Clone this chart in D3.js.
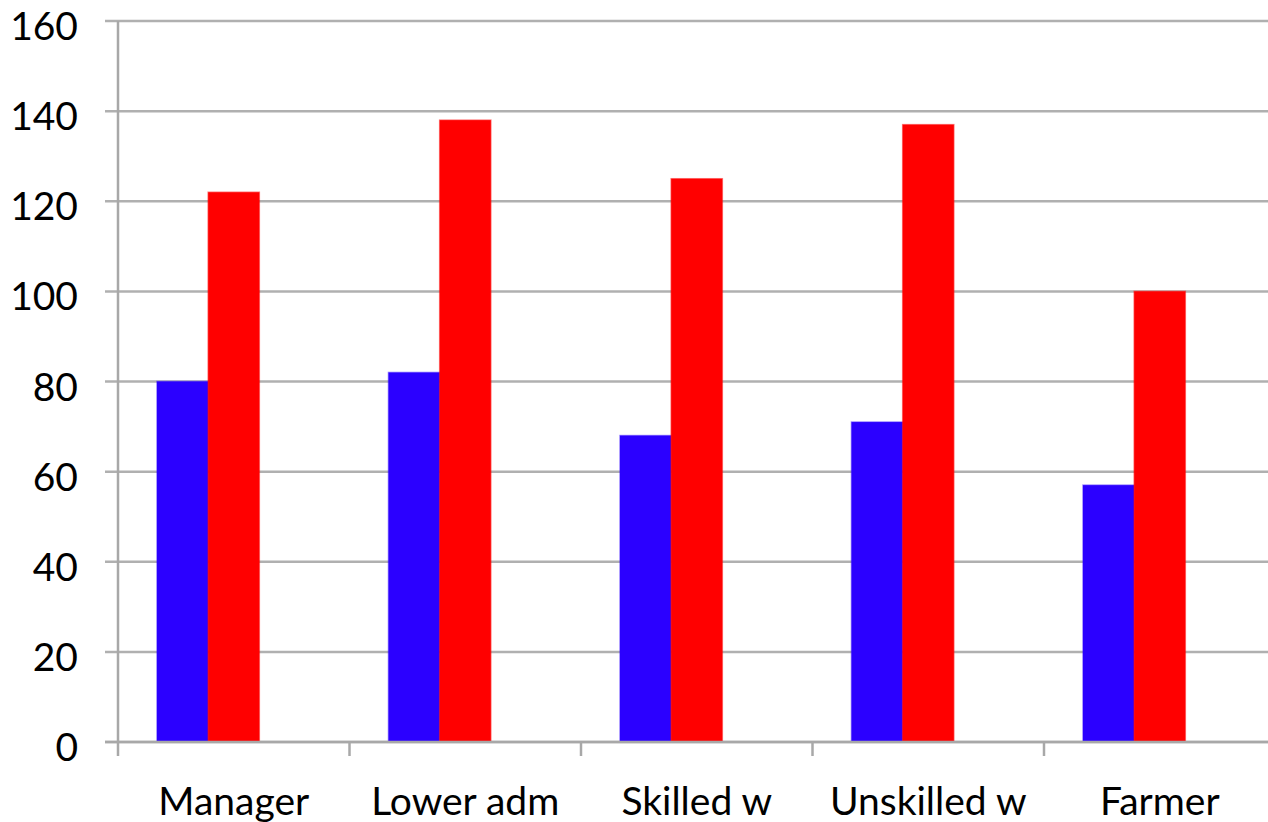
<!DOCTYPE html>
<html>
<head>
<meta charset="utf-8">
<script src="https://cdn.jsdelivr.net/npm/d3@7"></script>
<style>
  html, body { margin: 0; padding: 0; background: #ffffff; overflow: hidden; }
  svg { display: block; }
  text { font-family: Lato, "Open Sans", sans-serif; fill: #000; }
</style>
</head>
<body>
<svg id="chart" width="1268" height="822"></svg>
<script>
// Occupational categories along the x axis
const categories = ["Manager", "Lower adm", "Skilled w", "Unskilled w", "Farmer"];

// Series values per category (third slot in each group is left empty)
const seriesBlue = [80, 82, 68, 71, 57];
const seriesRed = [122, 138, 125, 137, 100];
const seriesEmpty = [null, null, null, null, null];

const seriesNames = ["blue", "red", "empty"];
const seriesColors = { blue: "#2b00ff", red: "#ff0000", empty: "none" };

// Y axis tick values
const yTicks = [0, 20, 40, 60, 80, 100, 120, 140, 160];

const svg = d3.select("#chart");
const margin = { left: 118, top: 21 };
const plotW = 1157.5;
const plotH = 721;

const g = svg.append("g").attr("transform", `translate(${margin.left},${margin.top})`);

const x = d3.scaleBand().domain(categories).range([0, plotW]).paddingInner(0).paddingOuter(0);
const inner = d3.scaleBand().domain(seriesNames).range([39, x.bandwidth() - 39]);
const y = d3.scaleLinear().domain([0, 160]).range([plotH, 0]);

const rows = categories.map((c, i) => ({
  category: c,
  blue: seriesBlue[i],
  red: seriesRed[i],
  empty: seriesEmpty[i]
}));

// Horizontal gridlines with a short outer tick on the left
g.append("g")
  .selectAll("line")
  .data(yTicks)
  .join("line")
  .attr("x1", -13)
  .attr("x2", plotW)
  .attr("y1", d => y(d))
  .attr("y2", d => y(d))
  .attr("stroke", "#b0b0b0")
  .attr("stroke-width", 2.5);

// Y tick labels
g.append("g")
  .selectAll("text")
  .data(yTicks)
  .join("text")
  .attr("x", -40)
  .attr("y", d => y(d) + 4)
  .attr("text-anchor", "end")
  .attr("dominant-baseline", "central")
  .attr("font-size", 39)
  .text(d => d);

// Bars
const groups = g.append("g")
  .selectAll("g")
  .data(rows)
  .join("g")
  .attr("transform", d => `translate(${x(d.category)},0)`);

groups.selectAll("rect")
  .data(d => seriesNames.filter(k => d[k] != null).map(k => ({ key: k, value: d[k] })))
  .join("rect")
  .attr("x", d => inner(d.key))
  .attr("width", inner.bandwidth())
  .attr("y", d => y(d.value))
  .attr("height", d => y(0) - y(d.value))
  .attr("fill", d => seriesColors[d.key])
  .attr("stroke", d => d3.color(seriesColors[d.key]).copy({ opacity: 0.5 }))
  .attr("stroke-width", 1.5);

// Y axis line
g.append("line")
  .attr("x1", 0).attr("x2", 0)
  .attr("y1", 0).attr("y2", plotH + 14)
  .attr("stroke", "#a8a8a8")
  .attr("stroke-width", 2.5);

// X axis baseline
g.append("line")
  .attr("x1", -13).attr("x2", plotW)
  .attr("y1", plotH).attr("y2", plotH)
  .attr("stroke", "#a8a8a8")
  .attr("stroke-width", 2.5);

// Category boundary ticks
g.append("g")
  .selectAll("line")
  .data(categories.slice(1).concat(["__end"]))
  .join("line")
  .attr("x1", (d, i) => x.step() * (i + 1))
  .attr("x2", (d, i) => x.step() * (i + 1))
  .attr("y1", plotH)
  .attr("y2", plotH + 14)
  .attr("stroke", "#a8a8a8")
  .attr("stroke-width", 2.5);

// Category labels
g.append("g")
  .selectAll("text")
  .data(categories)
  .join("text")
  .attr("x", d => x(d) + x.bandwidth() / 2)
  .attr("y", plotH + 73)
  .attr("text-anchor", "middle")
  .attr("font-size", 39)
  .text(d => d);
</script>
</body>
</html>
